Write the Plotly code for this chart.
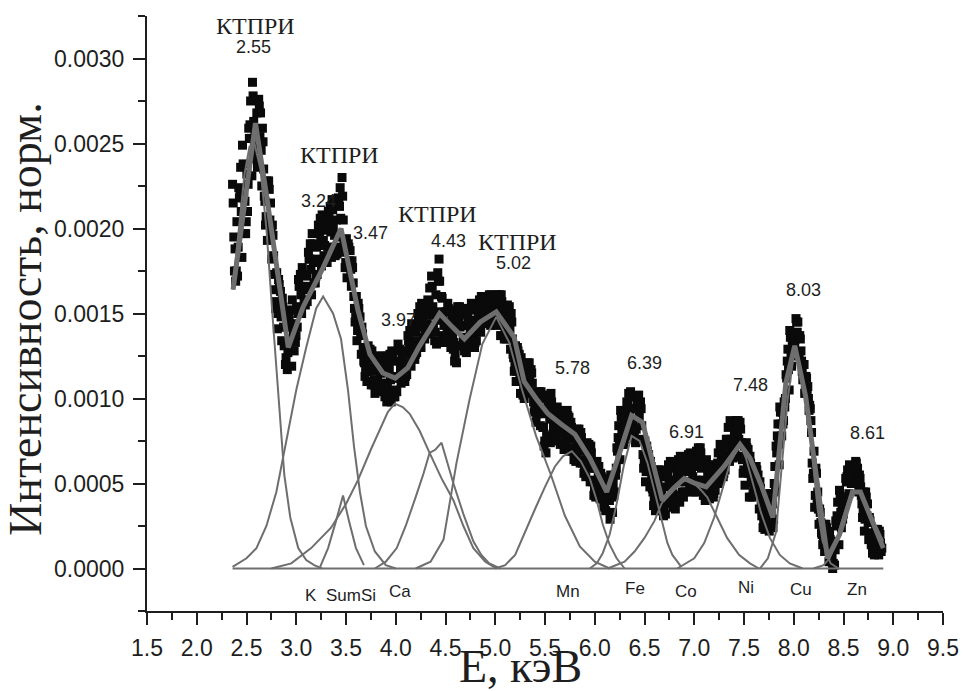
import numpy as np
import plotly.graph_objects as go

SCALE = 1e-5  # intensities below are stored in units of 1e-5

# ---- measured spectrum (black squares); four interleaved read-outs on a 0.025 keV grid ----
e_step = 0.025
e_start_a, e_start_c, e_start_b, e_start_d = 2.36, 2.36625, 2.3725, 2.37875
intensity_a = [226,188,172,220,249,216,210,261,286,256,236,254,259,216,193,205,202,164,141,154,
159,132,117,142,158,144,142,166,177,164,157,182,197,180,173,197,208,190,180,204,
217,196,185,213,230,186,171,181,181,153,134,141,142,121,110,123,128,111,104,119,
125,109,98,117,128,112,104,122,128,119,114,133,144,132,127,147,156,143,138,157,
172,149,132,182,160,143,133,145,151,133,121,147,153,136,127,146,156,139,134,152,
160,150,145,155,161,150,143,154,161,143,135,146,150,124,110,119,124,108,103,116,
117,98,86,98,104,83,68,93,103,84,76,87,92,79,70,83,86,71,63,75,
80,64,54,66,72,52,42,54,56,43,34,45,55,50,55,77,93,81,78,96,
104,87,74,94,98,67,51,61,63,45,34,51,58,40,32,54,63,44,35,56,
66,51,45,61,68,54,45,64,71,52,40,55,60,48,46,62,73,61,58,76,
87,73,67,80,86,64,49,61,66,51,44,48,51,33,23,35,44,38,60,78,
95,92,95,122,140,132,131,139,137,116,103,103,96,62,36,39,35,20,10,16,
20,8,2,31,46,36,38,54,61,55,50,55,55,38,22,31,30,15,8,19,
22,12]
intensity_b = [195,175,224,210,218,204,259,253,263,246,276,246,235,207,228,198,184,157,170,148,
142,124,150,135,140,137,170,161,165,158,186,176,180,172,202,192,193,183,210,198,
200,188,218,206,205,180,191,176,168,148,156,137,130,116,131,118,116,106,124,115,
115,103,125,111,112,105,132,118,119,113,137,129,132,126,150,142,144,138,158,152,
154,139,174,151,148,136,156,141,138,126,154,142,143,131,149,141,143,133,153,148,
151,146,159,152,152,146,161,149,147,138,155,141,135,119,130,114,111,103,121,112,
109,94,103,94,91,75,100,88,88,78,95,83,81,73,93,79,76,67,82,71,
69,59,74,62,59,46,63,50,47,38,53,40,42,45,71,73,81,76,98,92,
94,80,101,89,84,62,72,57,53,40,57,46,45,34,57,49,51,38,60,51,
53,45,65,57,57,48,69,60,59,46,64,51,50,44,61,59,63,56,76,72,
76,68,87,76,74,58,74,56,52,46,60,44,39,27,44,31,34,29,72,73,
85,87,114,117,127,127,147,136,128,112,113,100,87,56,59,35,27,16,26,13,
10,3,28,26,33,32,53,51,55,52,63,52,48,33,45,27,21,11,23,15,
15]
intensity_c = [215,169,189,236,238,197,226,275,278,241,249,268,251,202,204,215,196,153,150,163,
154,120,127,152,152,133,150,173,173,155,166,191,191,168,182,206,203,180,189,213,
211,184,195,224,219,177,177,187,177,145,140,148,138,113,116,129,125,103,110,125,
122,101,106,126,123,101,113,129,126,110,121,140,141,123,134,154,152,135,144,165,
166,134,146,169,159,133,140,152,147,122,131,154,150,128,133,153,152,130,140,158,
158,144,149,161,159,144,148,161,157,135,141,154,145,116,116,126,120,100,108,121,
115,92,91,104,100,72,78,102,98,75,82,93,89,70,77,89,83,64,69,82,
77,56,60,73,68,43,48,60,54,36,40,52,51,43,59,84,89,73,84,103,
101,78,82,102,94,59,57,67,60,37,41,58,54,31,40,61,59,36,43,64,
62,42,51,67,65,45,52,71,68,43,47,61,57,42,50,68,70,54,63,83,
84,65,73,87,82,56,57,70,62,44,48,55,47,24,29,42,43,24,45,85,
92,85,100,129,136,125,135,145,135,111,105,107,94,53,43,45,33,14,14,22,
17,0,11,39,42,29,42,58,60,50,53,59,53,30,29,38,28,9,12,23,
20]
intensity_d = [175,204,218,183,197,232,253,231,248,268,272,225,219,228,223,182,173,174,167,134,
131,142,146,119,128,154,166,150,157,172,182,161,168,189,199,178,184,199,207,183,
189,205,214,189,192,194,189,166,160,160,153,126,122,128,128,108,108,118,122,106,
109,117,122,98,101,122,128,109,112,126,134,119,124,139,148,130,136,149,156,139,
143,161,169,133,137,151,153,130,129,143,150,131,136,143,146,130,135,146,151,139,
145,154,157,143,145,156,158,137,137,150,153,129,126,131,128,103,102,115,118,104,
103,103,101,84,83,92,96,74,79,91,93,73,74,86,90,69,69,77,80,62,
62,70,72,51,51,59,60,41,41,49,51,29,33,55,69,64,73,88,96,83,
87,94,98,76,75,75,69,48,47,52,55,34,36,48,54,38,43,52,57,39,
45,58,63,47,50,61,66,49,51,60,61,41,44,54,59,50,56,67,73,63,
68,80,85,66,66,72,71,42,42,57,58,35,31,40,41,22,25,50,68,61,
78,98,112,105,119,138,145,127,122,120,112,93,80,69,56,26,21,26,24,4,
4,16,25,14,24,42,51,44,50,59,62,45,43,45,42,17,14,20,21,8,
10]

# ---- cumulative fit (thick grey) ----
fit_e = [2.365,2.59,2.70,2.85,2.92,3.07,3.27,3.45,3.54,3.62,3.74,3.87,3.995,4.12,4.23,4.44,4.57,4.69,
         4.85,5.01,5.19,5.29,5.41,5.53,5.66,5.80,5.95,6.12,6.25,6.37,6.48,6.58,6.68,6.79,6.90,7.01,
         7.12,7.30,7.46,7.56,7.68,7.79,7.92,8.01,8.12,8.26,8.34,8.46,8.59,8.67,8.78,8.90]
fit_v = [164,262,220,162,130,154,177,200,175,152,126,115,112,118,130,150,142,135,
         145,151,136,110,100,91,85,79,65,45,68,90,86,62,40,47,53,50,
         48,60,73,65,48,30,109,131,101,40,6,20,45,45,30,12]

# ---- individual peak components (thin grey) ----
c255_e = [2.36,2.42,2.48,2.53,2.58,2.64,2.70,2.76,2.82,2.88,2.94,3.02,3.10,3.18,3.26]
c255_v = [164,200,232,248,250,235,200,150,100,55,30,12,5,2,0]
c324_e = [2.36,2.50,2.60,2.70,2.80,2.90,3.00,3.10,3.20,3.27,3.37,3.45,3.52,3.58,3.64,3.70,3.79,3.90,4.00]
c324_v = [1,6,12,25,45,75,105,130,153,160,150,135,105,72,45,25,10,2,0]
c347_e = [3.24,3.32,3.40,3.47,3.53,3.60,3.68]
c347_v = [1,12,28,43,28,12,2]
c397_e = [2.75,2.95,3.15,3.35,3.50,3.62,3.75,3.85,3.92,3.99,4.07,4.14,4.24,4.34,4.46,4.58,4.68,4.78,4.90,5.01]
c397_v = [0,3,12,24,38,52,70,83,92,97,95,91,81,68,53,40,25,12,4,0]
c443_e = [3.79,3.90,4.01,4.10,4.20,4.28,4.34,4.40,4.46,4.52,4.58,4.68,4.78,4.86,4.94,5.05]
c443_v = [0,4,12,25,42,56,68,70,74,62,50,32,16,8,3,0]
c502_e = [4.20,4.35,4.48,4.61,4.74,4.87,5.01,5.14,5.27,5.41,5.56,5.70,5.85,6.00,6.15]
c502_v = [0,4,17,62,99,132,148,133,105,78,55,31,13,4,0]
c578_e = [5.00,5.10,5.20,5.30,5.40,5.50,5.60,5.68,5.77,5.86,5.95,6.02,6.08,6.15,6.22,6.30]
c578_v = [0,2,8,22,35,48,60,66,69,63,53,40,26,14,6,0]
c639_e = [5.95,6.02,6.08,6.15,6.22,6.29,6.37,6.45,6.53,6.60,6.67,6.73,6.78,6.87]
c639_v = [0,3,9,20,38,60,78,75,62,45,28,15,8,1]
c691_e = [6.13,6.30,6.40,6.50,6.60,6.67,6.75,6.83,6.92,7.00,7.07,7.13,7.23,7.33,7.45,7.56,7.65]
c691_v = [0,4,10,18,28,38,45,50,52,50,46,42,30,18,8,3,0]
c748_e = [6.83,7.00,7.10,7.20,7.28,7.36,7.46,7.52,7.59,7.67,7.76,7.86,7.96,8.09]
c748_v = [0,6,15,30,46,62,73,65,50,33,18,8,3,0]
c803_e = [7.66,7.74,7.82,7.88,7.94,8.01,8.07,8.12,8.18,8.24,8.29,8.37,8.45]
c803_v = [0,6,21,60,100,130,118,100,70,35,16,3,0]
c861_e = [8.20,8.30,8.36,8.42,8.48,8.54,8.59,8.67,8.73,8.80,8.90]
c861_v = [0,2,6,15,27,38,45,45,37,28,16]
components = [(c255_e, c255_v), (c324_e, c324_v), (c347_e, c347_v), (c397_e, c397_v),
              (c443_e, c443_v), (c502_e, c502_v), (c578_e, c578_v), (c639_e, c639_v),
              (c691_e, c691_v), (c748_e, c748_v), (c803_e, c803_v), (c861_e, c861_v)]
baseline_e = [2.36, 8.90]
baseline_v = [0, 0]

# ---- labels ----
peak_labels = ["2.55", "3.24", "3.47", "4.43", "5.02", "3.97", "5.78", "6.39", "6.91", "7.48", "8.03", "8.61"]
peak_label_e = [2.574, 3.22, 3.747, 4.53, 5.188, 4.025, 5.774, 6.495, 6.925, 7.566, 8.10, 8.74]
peak_label_v = [306.5, 216, 197.1, 192.5, 180, 145.9, 118.2, 120.6, 80.3, 108.2, 164.1, 80.0]
ktpri_e = [2.593, 3.438, 4.422, 5.228]
ktpri_v = [319.4, 243.5, 208.8, 192.0]
elements = ["K", "SumSi", "Ca", "Mn", "Fe", "Co", "Ni", "Cu", "Zn"]
element_e = [3.15, 3.548, 4.045, 5.735, 6.40, 6.917, 7.524, 8.07, 8.637]
element_v = [-15.9, -15.9, -13.5, -13.5, -11.8, -13.5, -11.2, -12.4, -12.4]

GREY = "#6e6e6e"
INK = "#1e1e1e"
SANS = "Liberation Sans, Arial, sans-serif"
SERIF = "Liberation Serif, Times New Roman, serif"

series = [(e_start_a, intensity_a), (e_start_c, intensity_c), (e_start_b, intensity_b), (e_start_d, intensity_d)]
data_e = np.concatenate([np.round(s + e_step * np.arange(len(v)), 5) for s, v in series])
data_v = np.concatenate([np.array(v, dtype=float) for _, v in series]) * SCALE
order = np.argsort(data_e, kind="stable")

fig = go.Figure()
fig.add_trace(go.Scatter(x=data_e[order], y=data_v[order], mode="markers",
                         marker=dict(symbol="square", size=9, color="#0a0a0a", line=dict(width=0)),
                         showlegend=False, hoverinfo="skip"))
for ce, cv in components:
    fig.add_trace(go.Scatter(x=ce, y=np.array(cv) * SCALE, mode="lines",
                             line=dict(color=GREY, width=2), showlegend=False))
fig.add_trace(go.Scatter(x=baseline_e, y=np.array(baseline_v) * SCALE, mode="lines",
                         line=dict(color=GREY, width=2.2), showlegend=False))
fig.add_trace(go.Scatter(x=fit_e, y=np.array(fit_v) * SCALE, mode="lines",
                         line=dict(color=GREY, width=5), showlegend=False))

ann = []
for t, x, y in zip(peak_labels, peak_label_e, peak_label_v):
    ann.append(dict(text=t, x=x, y=y * SCALE, xref="x", yref="y", showarrow=False,
                    font=dict(family=SANS, size=18, color=INK)))
for x, y in zip(ktpri_e, ktpri_v):
    ann.append(dict(text="КТПРИ", x=x, y=y * SCALE, xref="x", yref="y", showarrow=False,
                    font=dict(family=SERIF, size=24, color=INK)))
for t, x, y in zip(elements, element_e, element_v):
    ann.append(dict(text=t, x=x, y=y * SCALE, xref="x", yref="y", showarrow=False,
                    font=dict(family=SANS, size=17, color=INK)))
ann.append(dict(text="E, кэВ", x=0.4696, y=-0.094, xref="paper", yref="paper", showarrow=False,
                xanchor="center", yanchor="middle", font=dict(family=SERIF, size=46, color=INK)))
ann.append(dict(text="Интенсивность, норм.", x=-0.152, y=0.491, xref="paper", yref="paper",
                showarrow=False, textangle=-90, xanchor="center", yanchor="middle",
                font=dict(family=SERIF, size=46, color=INK)))

fig.update_layout(
    width=971, height=691, margin=dict(l=147, r=19, t=16, b=80),
    paper_bgcolor="white", plot_bgcolor="white", annotations=ann,
    xaxis=dict(range=[1.5, 9.5], tick0=1.5, dtick=0.5, tickformat=".1f", ticks="outside",
               ticklen=12, tickwidth=2, tickcolor=INK, showline=True, linewidth=2, linecolor=INK,
               showgrid=False, zeroline=False, ticklabelstandoff=3,
               tickfont=dict(family=SANS, size=23, color=INK),
               minor=dict(dtick=0.25, tick0=1.5, ticks="outside", ticklen=7, tickwidth=2, tickcolor=INK)),
    yaxis=dict(range=[-0.00025, 0.00325], tick0=0, dtick=0.0005, tickformat=".4f", ticks="outside",
               ticklen=12, tickwidth=2, tickcolor=INK, showline=True, linewidth=2, linecolor=INK,
               showgrid=False, zeroline=False, ticklabelstandoff=4,
               tickfont=dict(family=SANS, size=23, color=INK),
               minor=dict(dtick=0.00025, tick0=0, ticks="outside", ticklen=7, tickwidth=2, tickcolor=INK)),
)
fig.write_html("out.html")
